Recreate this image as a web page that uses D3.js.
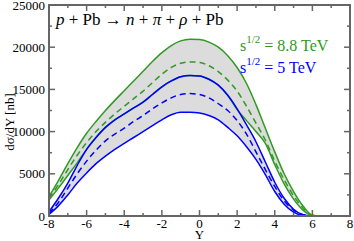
<!DOCTYPE html>
<html>
<head>
<meta charset="utf-8">
<script src="https://cdn.jsdelivr.net/npm/d3@7"></script>
<style>
  body { margin: 0; background: #fff; }
  text { font-family: "Liberation Serif", "DejaVu Serif", serif; }
</style>
</head>
<body>
<div id="chart"></div>
<script>
// rapidity grid
var rapidity = [-8, -7.5, -7, -6.5, -6, -5.5, -5, -4.5, -4, -3.5, -3, -2.5, -2, -1.5, -1, -0.5,
                0, 0.5, 1, 1.5, 2, 2.5, 3, 3.5, 4, 4.5, 5, 5.5, 6, 6.5, 7, 7.5, 8];

// 8.8 TeV
var green_upper = [2300, 4200, 6200, 8100, 9800, 11200, 12500, 13700, 14850, 16000, 17150, 18300, 19350, 20200, 20750, 20950,
                   20900, 20600, 20000, 19000, 17600, 15700, 13200, 10400, 7600, 5000, 2900, 1200, 100, 0, 0, 0, 0];
var green_mid   = [2100, 3700, 5500, 7200, 8700, 10000, 11100, 12100, 13000, 13900, 14800, 15800, 16800, 17600, 18100, 18250,
                   18200, 17800, 17100, 16100, 14800, 13000, 11000, 9000, 6500, 4300, 2400, 950, 80, 0, 0, 0, 0];
var green_lower = [1900, 3300, 4800, 6300, 7900, 9300, 10500, 11400, 12100, 12800, 13500, 14400, 15300, 16000, 16500, 16650,
                   16600, 16200, 15500, 14300, 12600, 11300, 10000, 8600, 6100, 3800, 2000, 700, 50, 0, 0, 0, 0];

// 5 TeV
var blue_upper  = [500, 2100, 3900, 6000, 7900, 9300, 10500, 11400, 12100, 12800, 13500, 14400, 15300, 16000, 16500, 16650,
                   16600, 16200, 15500, 14300, 12700, 10800, 8800, 6400, 4000, 2100, 800, 150, 0, 0, 0, 0, 0];
var blue_mid    = [300, 1600, 3300, 5000, 6500, 7800, 8900, 9700, 10400, 11200, 11900, 12700, 13400, 14000, 14400, 14500,
                   14400, 14000, 13300, 12500, 11300, 9700, 7600, 5500, 3500, 1800, 700, 150, 0, 0, 0, 0, 0];
var blue_lower  = [200, 1200, 2500, 3900, 5100, 6200, 7100, 7900, 8600, 9300, 10000, 10700, 11400, 12000, 12300, 12300,
                   12200, 11900, 11400, 10500, 9500, 8200, 6700, 4900, 2900, 1400, 450, 50, 0, 0, 0, 0, 0];

var x_ticks = [-8, -6, -4, -2, 0, 2, 4, 6, 8];
var y_ticks = [0, 5000, 10000, 15000, 20000, 25000];

var width = 354,
    height = 241;
var m = {left: 49, right: 350, top: 5, bottom: 216};

var green = "#2f9a22", blue = "#0000ff", axisColor = "#666666";

var svg = d3.select("#chart")
  .append("svg")
  .attr("width", width)
  .attr("height", height);

var x = d3.scaleLinear().domain([-8, 8]).range([m.left, m.right]);
var y = d3.scaleLinear().domain([0, 25000]).range([m.bottom, m.top]);

function pts(vals) {
  return rapidity.map(function(r, i) { return [r, vals[i]]; });
}

var area = d3.area()
  .x(function(d) { return x(d[0]); })
  .y0(function(d) { return y(d[1]); })
  .y1(function(d) { return y(d[2]); })
  .curve(d3.curveMonotoneX);

var line = d3.line()
  .x(function(d) { return x(d[0]); })
  .y(function(d) { return y(d[1]); })
  .curve(d3.curveMonotoneX);

// grey bands
[[green_upper, green_lower], [blue_upper, blue_lower]].forEach(function(b) {
  svg.append("path")
    .datum(rapidity.map(function(r, i) { return [r, b[1][i], b[0][i]]; }))
    .attr("d", area)
    .attr("fill", "#dcdcdc");
});

var curves = [
  {vals: green_lower, color: green, dash: null},
  {vals: green_upper, color: green, dash: null},
  {vals: green_mid, color: green, dash: "6,4"},
  {vals: blue_lower, color: blue, dash: null},
  {vals: blue_mid, color: blue, dash: "6,4"},
  {vals: blue_upper, color: blue, dash: null}
];

curves.forEach(function(c) {
  svg.append("path")
    .datum(pts(c.vals))
    .attr("d", line)
    .attr("fill", "none")
    .attr("stroke", c.color)
    .attr("stroke-width", 1.5)
    .attr("stroke-dasharray", c.dash);
});

// frame and ticks
svg.append("rect")
  .attr("x", m.left).attr("y", m.top)
  .attr("width", m.right - m.left).attr("height", m.bottom - m.top)
  .attr("fill", "none")
  .attr("stroke", axisColor)
  .attr("stroke-width", 2);

var ticks = svg.append("g").attr("stroke", axisColor).attr("stroke-width", 1.5);
d3.range(-8, 8.01, 1).forEach(function(v) {
  var len = (v % 2 === 0) ? 6 : 3;
  ticks.append("line").attr("x1", x(v)).attr("x2", x(v)).attr("y1", m.bottom).attr("y2", m.bottom - len);
  ticks.append("line").attr("x1", x(v)).attr("x2", x(v)).attr("y1", m.top).attr("y2", m.top + len);
});
d3.range(0, 25001, 2500).forEach(function(v) {
  var len = (v % 5000 === 0) ? 6 : 3;
  ticks.append("line").attr("y1", y(v)).attr("y2", y(v)).attr("x1", m.left).attr("x2", m.left + len);
  ticks.append("line").attr("y1", y(v)).attr("y2", y(v)).attr("x1", m.right).attr("x2", m.right - len);
});

svg.selectAll(".xl")
  .data(x_ticks)
  .enter().append("text")
  .attr("x", function(d) { return x(d); })
  .attr("y", m.bottom + 12)
  .attr("text-anchor", "middle")
  .attr("font-size", 13)
  .text(function(d) { return d; });

svg.selectAll(".yl")
  .data(y_ticks)
  .enter().append("text")
  .attr("x", m.left - 4)
  .attr("y", function(d) { return y(d) + 4.5; })
  .attr("text-anchor", "end")
  .attr("font-size", 13)
  .text(function(d) { return d; });

svg.append("text")
  .attr("x", x(0))
  .attr("y", 239)
  .attr("text-anchor", "middle")
  .attr("font-size", 13)
  .text("Y");

svg.append("text")
  .attr("transform", "translate(14,122) rotate(-90)")
  .attr("text-anchor", "middle")
  .attr("font-size", 13)
  .text("dσ/dY [nb]");

// title
var title = svg.append("text")
  .attr("x", 56)
  .attr("y", 25)
  .attr("font-size", 17);
[["p", true], [" + Pb → ", false], ["n", true], [" + ", false], ["π", true], [" + ", false], ["ρ", true], [" + Pb", false]]
  .forEach(function(p) {
    title.append("tspan").attr("font-style", p[1] ? "italic" : "normal").text(p[0]);
  });

// legend
[["= 8.8 TeV", green, 51], ["= 5 TeV", blue, 73]].forEach(function(l) {
  var t = svg.append("text")
    .attr("x", 240)
    .attr("y", l[2])
    .attr("font-size", 16)
    .attr("fill", l[1]);
  t.append("tspan").text("s");
  t.append("tspan").attr("dy", -8).attr("font-size", 11).text("1/2");
  t.append("tspan").attr("dy", 8).text(" " + l[0]);
});
</script>
</body>
</html>
